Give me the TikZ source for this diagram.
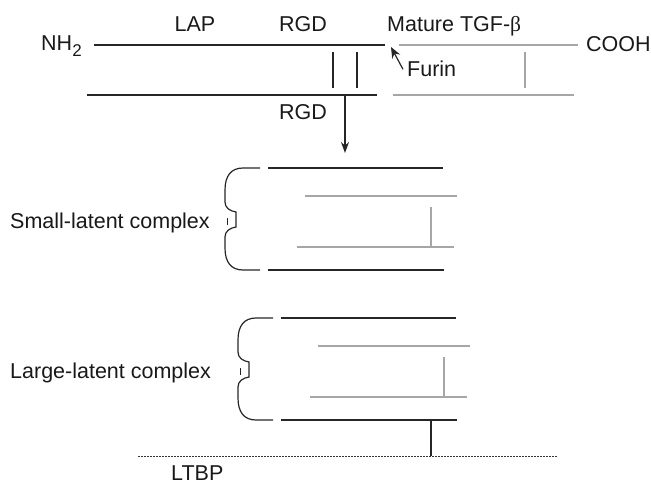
\documentclass[tikz,border=0pt]{standalone}
\usepackage{fontspec}
\setmainfont{Liberation Sans}
\newfontfamily\greekfont{Liberation Serif}
\usetikzlibrary{arrows.meta}

% bracket in front of a latent complex, drawn from its top left corner
\newcommand{\complexbrace}{%
  \draw[chain] (35,0) -- (18,0) .. controls (6,0) and (0,8) .. (0,22) -- (0,34)
    .. controls (0,40) and (5,43) .. (11,44) -- (11,59)
    .. controls (5,60) and (0,63) .. (0,69) -- (0,80)
    .. controls (0,94) and (6,102) .. (18,102) -- (35,102);
  \draw[chain, line width=0.9pt] (2,50) -- (2,57);}

\begin{document}
\begin{tikzpicture}[x=1pt,y=-1pt,
  every node/.style={inner sep=0pt, font=\fontsize{21.5}{25}\selectfont, text=black!90},
  chain/.style={draw=black!85, line width=1.2pt},
  mature/.style={draw=black!35, line width=1.2pt},
  tip/.style={-{Stealth[length=11pt,width=8pt]}}]
\useasboundingbox (0,0) rectangle (651,484);

% precursor
\node[anchor=base west] (nh2) at (41,51) {NH\raisebox{-6pt}{\fontsize{17}{17}\selectfont 2}};
\node[anchor=base] (lap) at (195,32) {LAP};
\node[anchor=base] (rgdtop) at (303,32) {RGD};
\node[anchor=base west] (mature) at (387,32) {Mature TGF-{\greekfont β}};
\node[anchor=base west] (cooh) at (586,52) {COOH};
\node[anchor=base west] (furin) at (407,77) {Furin};
\node[anchor=base] (rgdlow) at (303,120) {RGD};
\draw[chain] (94,45) -- (385,45);
\draw[mature] (399,45) -- (578,45);
\draw[chain] (87,95) -- (377,95);
\draw[mature] (393,95) -- (574,95);
\draw[chain] (333,52) -- (333,88) (357,52) -- (357,88);
\draw[mature] (525,52) -- (525,88);
\coordinate (cleave) at (391,47);
\draw[chain, -{Stealth[length=11pt,width=9pt]}] ([xshift=-4pt]furin.west) -- (cleave);

% secretion
\coordinate (release) at (345,95);
\coordinate (target) at (345,153);
\draw[chain, tip] (release) -- (target);

% small and large latent complexes
\foreach \xl/\yt/\name/\txt in {225/168/small/Small, 238/318/large/Large}{
  \node[anchor=base west] (\name) at (10,\yt+60) {\txt-latent complex};
  \begin{scope}[shift={(\xl,\yt)}]
    \complexbrace
    \draw[chain] (43,0) -- (218,0) (43,102) -- (219,102);
    \draw[mature] (80,28) -- (232,28) (72,79) -- (229,79) (206,39) -- (206,79);
    \coordinate (\name-base) at (193,102);
  \end{scope}}

% binding to LTBP
\node[anchor=base west] (ltbp) at (171,480) {LTBP};
\coordinate (anchorpt) at (431,456);
\draw[chain] (large-base) -- (anchorpt);
\draw[black!80, line width=1pt, dash pattern=on 1.5pt off 1.5pt] (138,456) -- (557,456);
\end{tikzpicture}
\end{document}
